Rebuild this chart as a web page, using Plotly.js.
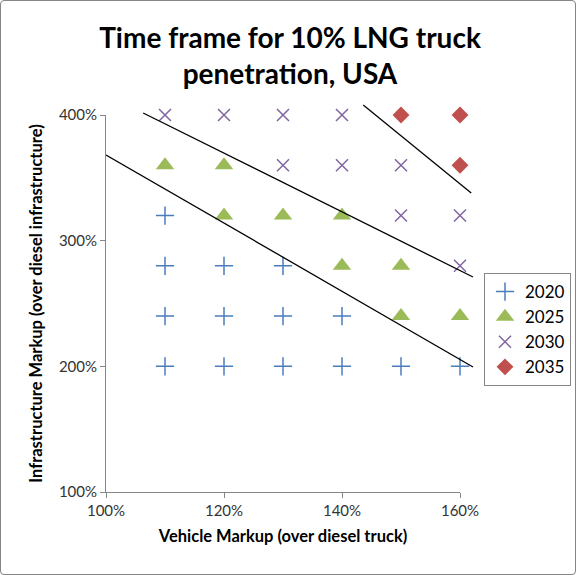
<!DOCTYPE html>
<html><head><meta charset="utf-8">
<script src="https://cdn.plot.ly/plotly-3.0.1.min.js"></script>
<style>
html,body{margin:0;padding:0;background:#fff;}
#wrap{position:relative;width:576px;height:575px;}
#border{position:absolute;left:0;top:0;width:574px;height:573px;border:1px solid #868686;border-radius:4px;pointer-events:none;}
</style></head>
<body><div id="wrap"><div id="chart"></div><div id="border"></div></div>
<script>
// Data
const series = ['2020','2025','2030','2035'];
const x2020 = [110,110,110,110,120,120,120,130,130,130,140,140,150,160];
const y2020 = [320,280,240,200,280,240,200,280,240,200,240,200,200,200];
const x2025 = [110,120,120,130,140,140,150,150,160];
const y2025 = [360,360,320,320,320,280,280,240,240];
const x2030 = [110,120,130,140,130,140,150,150,160,160];
const y2030 = [400,400,400,400,360,360,360,320,320,280];
const x2035 = [150,160,160];
const y2035 = [400,400,360];
// Boundary lines (start, end)
const line1X = [100,162.2], line1Y = [368.2,199.5];
const line2X = [106.3,162.2], line2Y = [401.6,271.1];
const line3X = [143.6,161.9], line3Y = [408.0,338.0];
const xTicks = [100,120,140,160];
const yTicks = [100,200,300,400];

const L=106, R=101, T=100, B=83, W=576, H=575;
const pw = W-L-R, ph = H-T-B;
const xd = 354/pw, yd = 377/ph;
const xr2 = 100 + 60/xd, yr2 = 100 + 300/yd;

const font = 'Lato, "Open Sans", sans-serif';
const mk = [
  {symbol:'cross-thin', size:13, color:'#4a7ebb', line:{color:'#4a7ebb', width:1.5}},
  {symbol:'triangle-up', size:16, color:'#9bbb59'},
  {symbol:'x-thin', size:12, color:'#8064a2', line:{color:'#8064a2', width:1.5}},
  {symbol:'diamond', size:13, color:'#c0504d'}
];
const xs=[x2020,x2025,x2030,x2035], ys=[y2020,y2025,y2030,y2035];
const traces = series.map((s,i)=>({type:'scatter', mode:'markers', name:s, x:xs[i], y:ys[i], marker:mk[i], cliponaxis:false}));
[[line1X,line1Y],[line2X,line2Y],[line3X,line3Y]].forEach(p=>{
  traces.push({type:'scatter', mode:'lines', x:p[0], y:p[1], xaxis:'x2', yaxis:'y2', showlegend:false, hoverinfo:'skip', line:{color:'#000', width:1.3}});
});

const layout = {
  width:W, height:H, margin:{l:L, r:R, t:T, b:B, autoexpand:false},
  paper_bgcolor:'#fff', plot_bgcolor:'rgba(0,0,0,0)',
  font:{family:font, size:14, color:'#000'},
  title:{text:'<b>Time frame for 10% LNG truck<br>penetration, USA</b>', x:290/W, xanchor:'center', xref:'container', yref:'container', y:1-48/H, yanchor:'middle', font:{family:font, size:28, color:'#000'}},
  showlegend:true,
  legend:{x:(484-L)/pw, xanchor:'left', y:(H-B-273)/ph, yanchor:'top', bordercolor:'#868686', borderwidth:1, font:{size:17, family:font}, bgcolor:'#fff', itemwidth:30},
  xaxis:{domain:[0,xd], range:[100,160], tickvals:xTicks, ticktext:xTicks.map(v=>v+'%'), showgrid:false, zeroline:false,
    showline:true, linecolor:'#868686', ticks:'outside', ticklen:5, tickcolor:'#868686', tickfont:{size:15, color:'#333'},
    title:{text:'<b>Vehicle Markup (over diesel truck)</b>', font:{size:16.5}, standoff:12}},
  yaxis:{domain:[0,yd], range:[100,400], tickvals:yTicks, ticktext:yTicks.map(v=>v+'%'), showgrid:false, zeroline:false,
    showline:true, linecolor:'#868686', ticks:'outside', ticklen:5, tickcolor:'#868686', tickfont:{size:15, color:'#333'},
    title:{text:'<b>Infrastructure Markup (over diesel infrastructure)</b>', font:{size:16.5}, standoff:12}},
  xaxis2:{domain:[0,1], range:[100,xr2], visible:false, anchor:'y2'},
  yaxis2:{domain:[0,1], range:[100,yr2], visible:false, anchor:'x2'}
};
Plotly.newPlot('chart', traces, layout, {displayModeBar:false, staticPlot:true});
</script></body></html>
